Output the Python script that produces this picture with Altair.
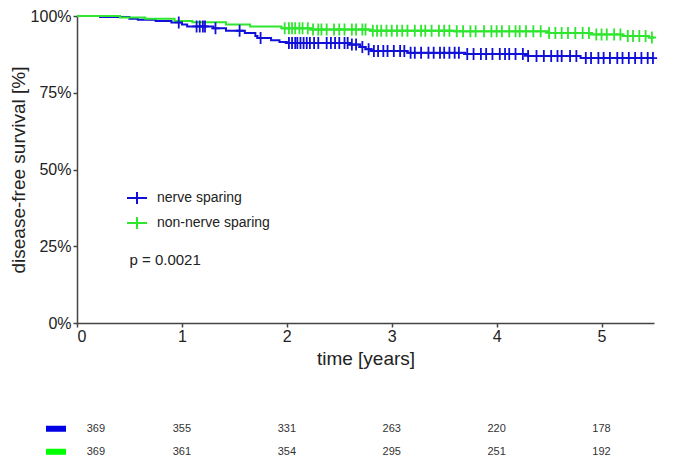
import altair as alt
import pandas as pd
import numpy as np

groups = ["nerve sparing", "non-nerve sparing"]
colors = ["#1010d8", "#2ee62e"]

# Kaplan-Meier step points (time in years, survival fraction)
ns_time = [0, 0.22, 0.50, 0.58, 0.75, 0.90, 1.00, 1.05, 1.30, 1.42, 1.60, 1.70, 1.72, 1.85, 1.93, 2.00,
           2.60, 2.70, 2.75, 2.80, 3.15, 3.70, 4.30, 4.80, 5.5]
ns_surv = [1.000, 0.997, 0.991, 0.988, 0.984, 0.979, 0.972, 0.966, 0.960, 0.952, 0.945, 0.935, 0.928, 0.921,
           0.915, 0.912, 0.907, 0.899, 0.892, 0.886, 0.880, 0.876, 0.870, 0.863, 0.863]
nns_time = [0, 0.41, 0.65, 0.93, 1.10, 1.42, 1.65, 1.95, 2.23, 2.80, 3.60, 4.50, 4.90, 5.20, 5.45, 5.5]
nns_surv = [1.000, 0.995, 0.991, 0.984, 0.980, 0.972, 0.966, 0.960, 0.956, 0.952, 0.950, 0.945, 0.940,
            0.935, 0.930, 0.930]

# censoring times
ns_cens = [0.97, 1.14, 1.17, 1.20, 1.22, 1.32, 1.55, 1.75, 2.02, 2.05, 2.08, 2.10, 2.13, 2.16, 2.19, 2.22,
           2.26, 2.30, 2.38, 2.42, 2.46, 2.50, 2.55, 2.58, 2.62, 2.66, 2.72, 2.78, 2.83, 2.87, 2.92, 2.96,
           3.02, 3.08, 3.12, 3.18, 3.22, 3.28, 3.35, 3.40, 3.46, 3.50, 3.55, 3.60, 3.64, 3.72, 3.78, 3.85,
           3.90, 3.96, 4.03, 4.08, 4.12, 4.18, 4.25, 4.30, 4.38, 4.45, 4.52, 4.58, 4.62, 4.70, 4.76, 4.85,
           4.90, 4.97, 5.02, 5.08, 5.15, 5.20, 5.26, 5.32, 5.38, 5.44, 5.49]
nns_cens = [1.98, 2.02, 2.05, 2.08, 2.12, 2.15, 2.20, 2.25, 2.30, 2.33, 2.38, 2.45, 2.50, 2.55, 2.62,
            2.66, 2.72, 2.75, 2.82, 2.86, 2.90, 2.95, 3.00, 3.05, 3.10, 3.15, 3.22, 3.28, 3.32, 3.38,
            3.45, 3.50, 3.55, 3.62, 3.68, 3.75, 3.80, 3.88, 3.95, 4.00, 4.05, 4.12, 4.18, 4.22, 4.28,
            4.35, 4.42, 4.50, 4.56, 4.62, 4.68, 4.75, 4.82, 4.88, 4.95, 5.00, 5.05, 5.12, 5.18, 5.25,
            5.30, 5.36, 5.42, 5.48]

# numbers at risk
risk_pos = [0.18, 1, 2, 3, 4, 5]
ns_risk = [369, 355, 331, 263, 220, 178]
nns_risk = [369, 361, 354, 295, 251, 192]

p_text = "p = 0.0021"

def lookup(times, surv, t):
    i = np.searchsorted(np.array(times), t, side="right") - 1
    return surv[i]

curve_df = pd.concat([
    pd.DataFrame({"t": ns_time, "s": ns_surv, "g": groups[0]}),
    pd.DataFrame({"t": nns_time, "s": nns_surv, "g": groups[1]}),
])
cens_df = pd.concat([
    pd.DataFrame({"t": ns_cens, "s": [lookup(ns_time, ns_surv, t) for t in ns_cens], "g": groups[0]}),
    pd.DataFrame({"t": nns_cens, "s": [lookup(nns_time, nns_surv, t) for t in nns_cens], "g": groups[1]}),
])

FONT = "Liberation Sans"
xscale = alt.Scale(domain=[0, 5.5], nice=False, zero=False)
color = alt.Color("g:N", scale=alt.Scale(domain=groups, range=colors),
                  legend=alt.Legend(title=None, orient="none", legendX=49, legendY=171,
                                    symbolType="M-1,0L1,0M0,-0.6L0,0.6", symbolSize=400,
                                    symbolStrokeWidth=2, labelFontSize=14, labelFont=FONT,
                                    labelColor="#222", labelOffset=9, rowPadding=4))

x_ax = alt.X("t:Q", scale=xscale,
             axis=alt.Axis(title="time [years]", values=[0, 1, 2, 3, 4, 5], format="d",
                           grid=False, tickSize=4, labelPadding=1, titlePadding=5))
y_ax = alt.Y("s:Q", scale=alt.Scale(domain=[0, 1], nice=False),
             axis=alt.Axis(title="disease-free survival [%]", values=[0, 0.25, 0.5, 0.75, 1],
                           format=".0%", grid=False, tickSize=4, labelPadding=2, titlePadding=2))

lines = alt.Chart(curve_df).mark_line(interpolate="step-after", strokeWidth=2).encode(
    x=x_ax, y=y_ax, color=color)
marks = alt.Chart(cens_df).mark_point(
    shape="M-0.7,0L0.7,0M0,-1L0,1", size=144, filled=False, strokeWidth=1.8, opacity=1).encode(
    x="t:Q", y="s:Q", color=alt.Color("g:N", scale=alt.Scale(domain=groups, range=colors), legend=None))
ptext = alt.Chart(pd.DataFrame({"t": [0.5], "s": [0.205], "lab": [p_text]})).mark_text(
    align="left", baseline="middle", fontSize=15, font=FONT, color="#222").encode(
    x="t:Q", y="s:Q", text="lab:N")

main = alt.layer(lines, marks, ptext).properties(width=577, height=307)

risk_df = pd.concat([
    pd.DataFrame({"t": risk_pos, "n": ns_risk, "g": groups[0]}),
    pd.DataFrame({"t": risk_pos, "n": nns_risk, "g": groups[1]}),
])
sw_df = pd.DataFrame({"t": [-0.2, -0.2], "g": groups})
ysc = alt.Scale(domain=groups, padding=0.25)
risk_text = alt.Chart(risk_df).mark_text(fontSize=11, font=FONT, color="#333").encode(
    x=alt.X("t:Q", scale=xscale, axis=None),
    y=alt.Y("g:N", scale=ysc, axis=None),
    text="n:Q")
swatch = alt.Chart(sw_df).mark_point(
    shape="M-1,-0.3L1,-0.3L1,0.3L-1,0.3Z", size=400, filled=True, opacity=1).encode(
    x=alt.X("t:Q", scale=xscale, axis=None),
    y=alt.Y("g:N", scale=ysc, axis=None),
    color=alt.Color("g:N", scale=alt.Scale(domain=groups, range=["#0000e6", "#00ff00"]), legend=None))
table = alt.layer(swatch, risk_text).properties(width=577, height=34.5)

chart = alt.vconcat(main, table, spacing=54).resolve_scale(color="independent").properties(
    padding={"left": 1, "top": 0, "right": 0, "bottom": 0}
).configure_view(stroke=None).configure_axis(
    labelFont=FONT, titleFont=FONT, labelFontSize=16, titleFontSize=19, titleFontWeight="normal",
    labelColor="#222", titleColor="#222", domainColor="#444", domainWidth=1.5, tickColor="#444",
    tickWidth=1.5
)

chart.save("out.html", embed_options={"renderer": "svg", "actions": False})
